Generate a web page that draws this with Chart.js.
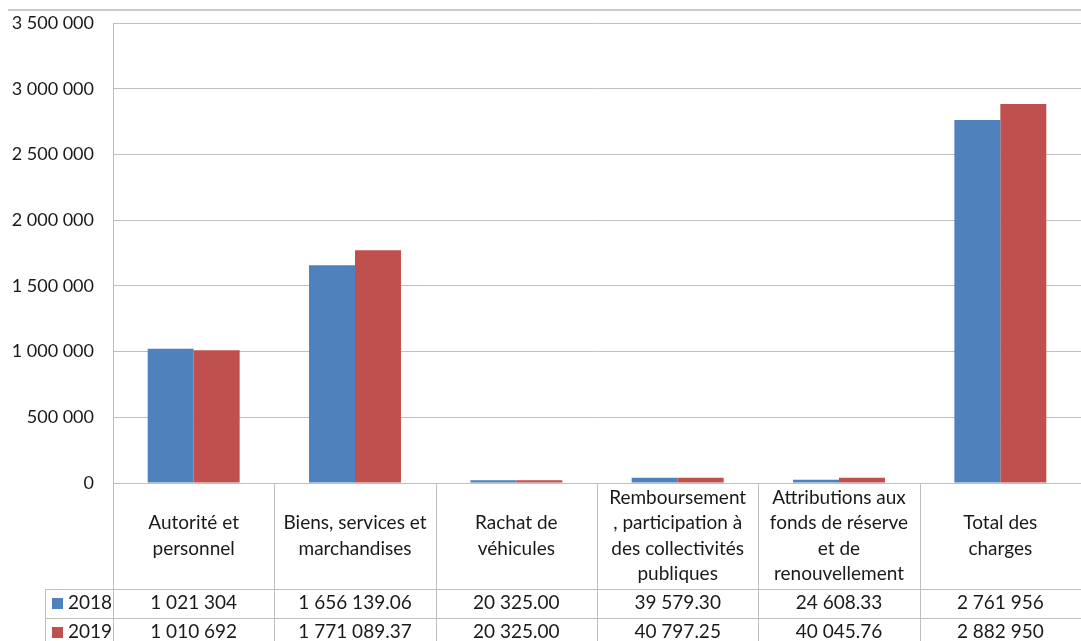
<!DOCTYPE html>
<html>
<head>
<meta charset="utf-8">
<script src="https://cdn.jsdelivr.net/npm/chart.js@4.4.0/dist/chart.umd.min.js"></script>
<style>
  html, body { margin: 0; padding: 0; background: #fff; }
  #wrap { position: relative; width: 1081px; height: 641px; overflow: hidden; }
  #rule { position: absolute; left: 8px; right: 0; top: 9px; border-top: 2px solid #cbcbcb; }
  #chart { position: absolute; left: 0; top: 0; }
</style>
</head>
<body>
<div id="wrap">
  <div id="rule"></div>
  <canvas id="chart" width="1081" height="641"></canvas>
</div>
<script>
// categories (one array per line of the table header cell)
const categories = [
  ['Autorité et', 'personnel'],
  ['Biens, services et', 'marchandises'],
  ['Rachat de', 'véhicules'],
  ['Remboursement', ', participation à', 'des collectivités', 'publiques'],
  ['Attributions aux', 'fonds de réserve', 'et de', 'renouvellement'],
  ['Total des', 'charges']
];
const years = ['2018', '2019'];
const values2018 = [1021304, 1656139.06, 20325.00, 39579.30, 24608.33, 2761956];
const values2019 = [1010692, 1771089.37, 20325.00, 40797.25, 40045.76, 2882950];
const tableDecimals = [0, 2, 2, 2, 2, 0];
const yMax = 3500000;
const yStep = 500000;

const BLUE = '#4f81bd';
const RED = '#c0504d';
const GRID = '#bfbfbf';
const TEXT = '#1a1a1a';
const FONT = 'Lato, "Open Sans", sans-serif';

// 1656139.06 -> "1 656 139.06"
function spaced(v, dec) {
  const parts = v.toFixed(dec).split('.');
  const intPart = parts[0].replace(/\B(?=(\d{3})+(?!\d))/g, ' ');
  return parts[1] ? intPart + '.' + parts[1] : intPart;
}

/* ---------- DATA TABLE UNDER THE PLOT ---------- */
const dataTable = {
  id: 'dataTable',
  afterDraw(chart) {
    const { ctx, chartArea: a, scales: { x } } = chart;
    const bottom = chart.height;
    const n = categories.length;
    const rowTop = a.bottom + 106;
    const rowH = 28.5;
    const legendLeft = 45.5;
    const crisp = (v) => Math.round(v) + 0.5;

    const edges = [a.left];
    for (let i = 0; i < n - 1; i++) {
      edges.push((x.getPixelForValue(i) + x.getPixelForValue(i + 1)) / 2);
    }
    edges.push(a.right);

    ctx.save();
    ctx.strokeStyle = GRID;
    ctx.lineWidth = 1;
    ctx.beginPath();
    edges.forEach(ex => {
      ctx.moveTo(crisp(ex), a.bottom);
      ctx.lineTo(crisp(ex), bottom);
    });
    for (let r = 0; r <= years.length; r++) {
      const y = crisp(rowTop + r * rowH);
      ctx.moveTo(legendLeft, y);
      ctx.lineTo(a.right, y);
    }
    ctx.moveTo(legendLeft, crisp(rowTop));
    ctx.lineTo(legendLeft, bottom);
    ctx.stroke();

    ctx.fillStyle = TEXT;
    ctx.font = '19px ' + FONT;
    ctx.textAlign = 'center';
    ctx.textBaseline = 'middle';

    // category header cells
    const headMid = (a.bottom + rowTop) / 2;
    const lineH = 25.5;
    categories.forEach((lines, i) => {
      const cx = (edges[i] + edges[i + 1]) / 2;
      lines.forEach((t, k) => {
        ctx.fillText(t, cx, headMid + (k - (lines.length - 1) / 2) * lineH);
      });
    });

    // value rows + legend keys
    chart.data.datasets.forEach((ds, r) => {
      const cy = rowTop + rowH * (r + 0.5);
      ds.data.forEach((v, i) => {
        const cx = (edges[i] + edges[i + 1]) / 2;
        ctx.fillText(spaced(v, tableDecimals[i]), cx, cy);
      });
      ctx.fillStyle = ds.backgroundColor;
      ctx.fillRect(52, Math.round(cy) - 5, 11, 11);
      ctx.fillStyle = TEXT;
      ctx.textAlign = 'left';
      ctx.fillText(ds.label, 68, cy);
      ctx.textAlign = 'center';
    });
    ctx.restore();
  }
};

new Chart(document.getElementById('chart'), {
  type: 'bar',
  data: {
    labels: categories,
    datasets: [
      { label: years[0], data: values2018, backgroundColor: BLUE },
      { label: years[1], data: values2019, backgroundColor: RED }
    ]
  },
  options: {
    responsive: false,
    animation: false,
    layout: { padding: { top: 23, bottom: 158, left: 0, right: 0 } },
    datasets: {
      bar: { categoryPercentage: 0.57, barPercentage: 1, borderWidth: 0 }
    },
    plugins: {
      legend: { display: false },
      tooltip: { enabled: false }
    },
    scales: {
      x: { display: false },
      y: {
        min: 0,
        max: yMax,
        afterFit: (s) => {
          s.width = 113;
          s.paddingTop = 0;
          s.paddingBottom = 0;
        },
        ticks: {
          stepSize: yStep,
          padding: 19,
          color: TEXT,
          font: { family: FONT, size: 18 },
          callback: (v) => spaced(v, 0)
        },
        grid: { color: GRID, drawTicks: false },
        border: { color: GRID }
      }
    }
  },
  plugins: [dataTable]
});
</script>
</body>
</html>
